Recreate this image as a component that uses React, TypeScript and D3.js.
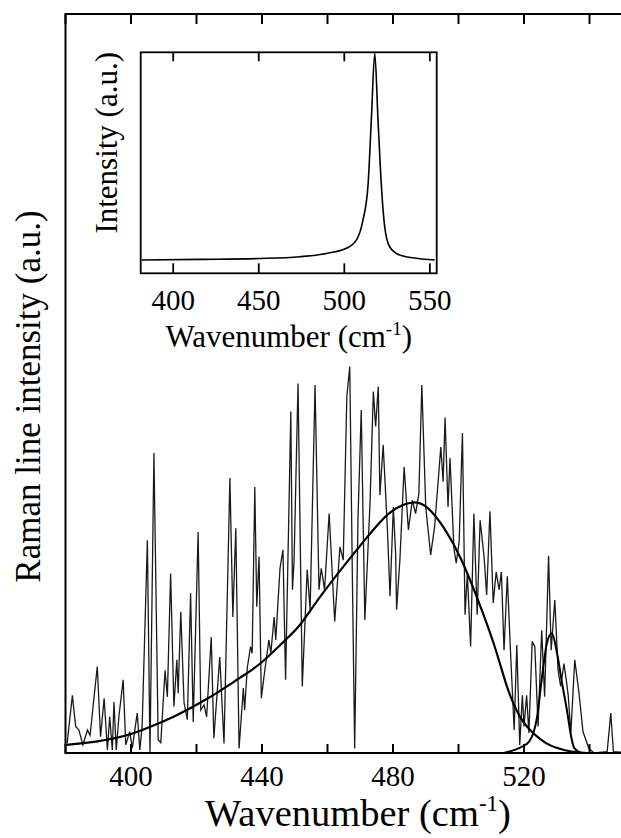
import React from 'react';
import * as d3 from 'd3';

// measured Raman spectrum (noisy) and fitted components
const ramanWn = [380.5, 382.1, 383.1, 384.1, 385.3, 386.7, 387.5, 389.7, 390.7, 391.8, 392.8, 393.5, 394.3, 394.8, 395.5, 396.3, 397.6, 398.4, 399.6, 400.4, 401.1, 401.9, 402.7, 403.4, 405.0, 405.8, 407.0, 408.3, 409.1, 410.4, 411.1, 412.1, 413.1, 414.0, 414.4, 415.2, 416.2, 417.2, 418.2, 419.0, 420.5, 421.3, 422.3, 423.1, 424.5, 425.3, 427.1, 428.4, 430.2, 431.1, 432.0, 433.0, 434.3, 434.7, 435.5, 436.5, 437.0, 437.8, 438.4, 439.1, 439.8, 440.6, 442.1, 442.7, 443.7, 444.2, 445.5, 446.4, 447.2, 448.8, 449.3, 449.8, 451.0, 452.3, 453.8, 454.7, 456.2, 457.4, 458.1, 459.1, 460.5, 462.2, 463.8, 464.8, 465.9, 466.8, 467.6, 468.3, 469.3, 470.3, 471.4, 473.0, 474.0, 474.7, 475.5, 476.0, 477.0, 478.3, 479.1, 480.1, 480.8, 481.1, 482.1, 483.4, 484.7, 485.9, 486.9, 487.9, 488.8, 490.0, 491.5, 492.7, 494.6, 495.3, 495.9, 496.8, 497.4, 498.6, 499.3, 500.2, 501.2, 502.0, 502.7, 503.7, 504.7, 505.7, 506.6, 507.8, 508.6, 509.6, 510.6, 511.5, 512.4, 513.1, 513.9, 514.9, 515.9, 517.0, 517.8, 518.7, 519.5, 520.0, 520.8, 521.5, 522.5, 523.3, 524.3, 525.4, 526.3, 527.5, 528.3, 529.4, 530.4, 531.2, 532.2, 532.9, 533.5, 534.3, 535.5, 536.8, 538.0, 539.8, 541.4, 545.4, 546.5, 547.3, 549.6];
const ramanI = [1.3, 7.8, 3.6, 3.1, 1.1, 3.1, 2.4, 11.7, 2.2, 7.4, 0.4, 4.9, 0.4, 6.9, 0.4, 4.9, 9.9, 1.1, 2.9, 0.7, 2.9, 5.4, 0.4, 3.6, 28.8, 0, 40.6, 1.8, 1.4, 11.2, 7.6, 24.3, 6.3, 12.6, 8.1, 19.1, 6.8, 4.5, 21.6, 4.2, 29.9, 5.8, 6.5, 4.9, 15.7, 2.0, 13.0, 1.3, 37.2, 18.4, 30.4, 0.6, 8.8, 5.8, 11.5, 14.4, 13.5, 36.0, 19.8, 26.6, 7.4, 10.3, 15.3, 13.5, 18.4, 15.3, 25.0, 27.5, 9.9, 46.2, 22.1, 26.1, 50.0, 9.0, 24.8, 19.4, 49.8, 22.1, 25.0, 22.1, 32.4, 17.8, 27.9, 26.1, 48.2, 52.3, 23.6, 0.6, 31.5, 46.4, 18.0, 34.0, 48.9, 44.2, 49.6, 34.9, 41.7, 30.2, 21.2, 33.3, 27.0, 19.4, 26.1, 38.7, 30.2, 34.2, 32.4, 35.1, 49.8, 33.3, 26.8, 30.6, 41.4, 36.7, 45.4, 33.3, 39.9, 27.7, 25.7, 28.6, 43.3, 18.7, 24.3, 14.4, 32.4, 18.7, 31.5, 26.6, 21.4, 32.7, 20.3, 24.5, 22.1, 24.5, 13.9, 23.9, 13.5, 3.1, 14.6, 1.1, 7.8, 3.6, 7.8, 2.7, 15.1, 14.4, 3.6, 16.6, 7.6, 26.7, 13.9, 20.7, 11.2, 9.0, 12.1, 9.9, 7.8, 2.7, 12.6, 8.1, 2.9, 0.6, 0, 0.2, 5.4, 0.2, 0.1];

const broadWn = [380.2, 389.6, 400.0, 408.9, 413.1, 423.2, 433.6, 439.4, 447.3, 451.6, 456.8, 466.9, 477.0, 480.9, 486.4, 490.7, 495.6, 500.8, 506.0, 511.1, 514.5, 516.6, 519.1, 521.8, 524.0, 527.0, 529.2, 534.4, 539.2];
const broadI = [1.1, 1.5, 2.4, 4.1, 4.9, 7.2, 10.3, 11.9, 15.4, 17.1, 20.7, 26.4, 31.9, 33.2, 34.2, 33.4, 30.6, 26.5, 20.7, 14.6, 9.2, 6.8, 4.5, 3.1, 2.2, 1.2, 0.8, 0.1, 0];

const narrowWn = [513.9, 519.1, 521.5, 524.0, 525.5, 527.0, 528.5, 530.1, 531.6, 533.1, 534.4, 535.3, 537.4];
const narrowI = [0, 0.8, 1.5, 4.9, 10.3, 14.9, 16.2, 13.5, 9.5, 5.8, 2.2, 0.7, 0];

// inset: reference spectrum
const insetWn = [381.6, 415.6, 450.6, 474.0, 489.6, 501.2, 507.1, 510.9, 513.8, 515.8, 517.8, 519.7, 521.7, 523.6, 526.5, 532.3, 542.1, 552.8];
const insetI = [6.0, 6.3, 6.7, 7.5, 9.0, 11.3, 15.1, 24.1, 39.2, 69.4, 99.5, 69.4, 39.2, 21.1, 12.0, 8.3, 6.8, 6.0];

const mainTicks = [380, 400, 420, 440, 460, 480, 500, 520, 540];
const mainLabels = [400, 440, 480, 520];
const insetTicks = [400, 450, 500, 550];

const W = 621;
const H = 838;
const serif = { fontFamily: '"Liberation Serif", "DejaVu Serif", serif' };

export default function App() {
  const x = d3.scaleLinear().domain([380, 550]).range([65.5, 622.25]);
  const y = d3.scaleLinear().domain([0, 100]).range([753, 14]);
  const ix = d3.scaleLinear().domain([381, 554]).range([140.7, 436.7]);
  const iy = d3.scaleLinear().domain([0, 100]).range([273.3, 52.3]);

  const rawLine = d3.line<number>().x((d, i) => x(ramanWn[i])).y(d => y(d));
  const broadLine = d3.line<number>().x((d, i) => x(broadWn[i])).y(d => y(d)).curve(d3.curveBasis);
  const narrowLine = d3.line<number>().x((d, i) => x(narrowWn[i])).y(d => y(d)).curve(d3.curveMonotoneX);
  const insetLine = d3.line<number>().x((d, i) => ix(insetWn[i])).y(d => iy(d)).curve(d3.curveMonotoneX);

  const [x0, x1] = x.range();
  const [yb, yt] = y.range();
  const [ix0, ix1] = ix.range();
  const [iyb, iyt] = iy.range();

  return (
    <div style={{ position: 'absolute', left: 0, top: 0 }}>
      <svg width={W} height={H} style={{ display: 'block', background: '#fff' }}>
        <defs>
          <clipPath id="mainClip">
            <rect x={x0} y={yt} width={x1 - x0} height={yb - yt} />
          </clipPath>
        </defs>

        <g clipPath="url(#mainClip)" fill="none">
          <path d={rawLine(ramanI) || ''} stroke="#1a1a1a" strokeWidth={1.3} />
          <path d={broadLine(broadI) || ''} stroke="#000" strokeWidth={2.2} />
          <path d={narrowLine(narrowI) || ''} stroke="#000" strokeWidth={2} />
        </g>

        {/* main frame */}
        <rect x={x0} y={yt} width={x1 - x0} height={yb - yt} fill="none" stroke="#000" strokeWidth={2} />
        {mainTicks.map(t => (
          <g key={t} stroke="#000" strokeWidth={2}>
            <line x1={x(t)} x2={x(t)} y1={yt} y2={yt + 10} />
            <line x1={x(t)} x2={x(t)} y1={yb} y2={yb - 9} />
          </g>
        ))}
        {mainLabels.map(t => (
          <text key={t} x={x(t)} y={786} textAnchor="middle" fontSize={29} style={serif}>{t}</text>
        ))}
        <text x={358} y={826} textAnchor="middle" fontSize={38.5} style={serif}>
          Wavenumber (cm<tspan dy={-15} fontSize={23}>-1</tspan><tspan dy={15}>)</tspan>
        </text>
        <text transform={`translate(40, ${(yb + yt) / 2 + 13}) rotate(-90)`} textAnchor="middle" fontSize={35} style={serif}>
          Raman line intensity (a.u.)
        </text>

        {/* inset */}
        <rect x={ix0} y={iyt} width={ix1 - ix0} height={iyb - iyt} fill="#fff" stroke="#000" strokeWidth={1.8} />
        <path d={insetLine(insetI) || ''} fill="none" stroke="#000" strokeWidth={1.6} />
        {insetTicks.map(t => (
          <g key={t} stroke="#000" strokeWidth={1.8}>
            <line x1={ix(t)} x2={ix(t)} y1={iyt} y2={iyt + 9} />
            <line x1={ix(t)} x2={ix(t)} y1={iyb} y2={iyb - 10} />
          </g>
        ))}
        {insetTicks.map(t => (
          <text key={t} x={ix(t)} y={310} textAnchor="middle" fontSize={29} style={serif}>{t}</text>
        ))}
        <text x={(ix0 + ix1) / 2} y={347} textAnchor="middle" fontSize={31} style={serif}>
          Wavenumber (cm<tspan dy={-12} fontSize={19}>-1</tspan><tspan dy={12}>)</tspan>
        </text>
        <text transform={`translate(117, ${(iyb + iyt) / 2 - 20}) rotate(-90)`} textAnchor="middle" fontSize={31} style={serif}>
          Intensity (a.u.)
        </text>
      </svg>
    </div>
  );
}
